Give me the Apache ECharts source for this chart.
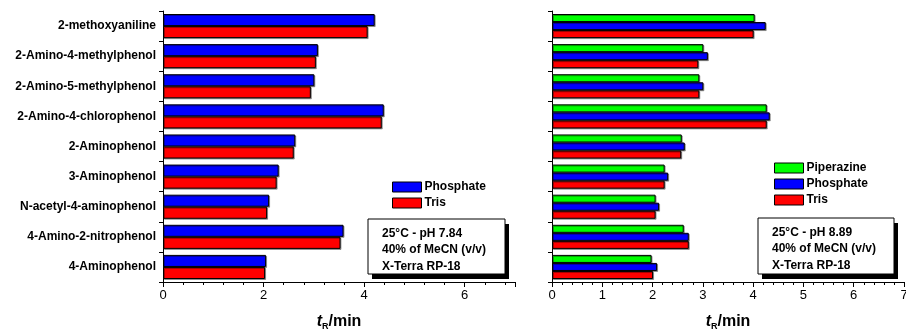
<!DOCTYPE html>
<html>
<head>
<meta charset="utf-8">
<script src="https://cdn.jsdelivr.net/npm/echarts@6/dist/echarts.min.js"></script>
<style>html,body{margin:0;padding:0;background:#fff;}#c{width:906px;height:331px;}</style>
</head>
<body>
<div id="c"></div>
<script>
const categories = ['2-methoxyaniline', '2-Amino-4-methylphenol', '2-Amino-5-methylphenol', '2-Amino-4-chlorophenol', '2-Aminophenol', '3-Aminophenol', 'N-acetyl-4-aminophenol', '4-Amino-2-nitrophenol', '4-Aminophenol'];
const leftPhosphate = [4.21, 3.08, 3.01, 4.39, 2.63, 2.30, 2.11, 3.59, 2.05];
const leftTris = [4.07, 3.04, 2.94, 4.35, 2.60, 2.26, 2.07, 3.53, 2.03];
const rightPiperazine = [4.03, 3.01, 2.93, 4.27, 2.58, 2.24, 2.06, 2.62, 1.98];
const rightPhosphate = [4.25, 3.10, 3.01, 4.33, 2.64, 2.31, 2.13, 2.72, 2.09];
const rightTris = [4.01, 2.91, 2.93, 4.27, 2.57, 2.24, 2.06, 2.72, 2.01];
const leftConditions = ['25°C - pH 7.84', '40% of MeCN (v/v)', 'X-Terra RP-18'];
const rightConditions = ['25°C - pH 8.89', '40% of MeCN (v/v)', 'X-Terra RP-18'];

const FONT = '"Liberation Sans", Arial, Helvetica, sans-serif';
const colors = {Piperazine: '#00ff00', Phosphate: '#0000ff', Tris: '#ff0000'};

function bar(name, data, idx) {
  return {
    type: 'bar', name: name, data: data, xAxisIndex: idx, yAxisIndex: idx,
    barCategoryGap: '20%', barGap: '0%',
    itemStyle: {color: colors[name], borderColor: '#000', borderWidth: 1,
      shadowColor: 'rgba(0,0,0,0.35)', shadowOffsetX: 1, shadowOffsetY: 1, shadowBlur: 0},
    emphasis: {disabled: true}, animation: false
  };
}
function xAx(idx, interval) {
  return {
    type: 'value', gridIndex: idx, min: 0, max: 7, interval: interval,
    axisLine: {show: true, lineStyle: {color: '#000', width: 1}},
    axisTick: {show: true, length: 5, lineStyle: {color: '#000'}},
    minorTick: {show: true, splitNumber: 5, length: 3, lineStyle: {color: '#000'}},
    splitLine: {show: false},
    axisLabel: {color: '#000', fontSize: 13, fontFamily: FONT, margin: 7, showMaxLabel: interval === 1},
    name: '{t|t}{r|R}{m|/min}', nameLocation: 'middle', nameGap: 30,
    nameTextStyle: {rich: {
      t: {fontSize: 16, fontWeight: 'bold', fontStyle: 'italic', fontFamily: FONT, color: '#000'},
      r: {fontSize: 9, fontWeight: 'bold', fontFamily: FONT, color: '#000', padding: [10, 0, 0, 0]},
      m: {fontSize: 16, fontWeight: 'bold', fontFamily: FONT, color: '#000'}
    }}
  };
}
function yAx(idx, showLabels) {
  return {
    type: 'category', gridIndex: idx, data: categories, inverse: true,
    axisLine: {show: true, lineStyle: {color: '#000', width: 1}},
    axisTick: {show: true, length: 4, lineStyle: {color: '#000'}},
    axisLabel: {show: showLabels, color: '#000', fontSize: 12, fontWeight: 'bold', fontFamily: FONT, margin: 7},
    splitLine: {show: false}
  };
}
function condBox(x, y, w, h, lines) {
  return {
    type: 'group', children: [
      {type: 'rect', shape: {x: x + 4, y: y + 5, width: w, height: h}, style: {fill: '#000'}},
      {type: 'rect', shape: {x: x, y: y, width: w, height: h}, style: {fill: '#fff', stroke: '#000', lineWidth: 1}},
      {type: 'text', x: x + 14, y: y + 6, style: {text: lines.join('\n'), font: 'bold 12px ' + FONT, fill: '#000', lineHeight: 16.5}}
    ]
  };
}
function legendAt(names, left, top) {
  return {data: names, orient: 'vertical', left: left, top: top, padding: 0, icon: 'rect',
    itemWidth: 29, itemHeight: 10, itemGap: 4,
    itemStyle: {borderColor: '#000', borderWidth: 1},
    textStyle: {fontSize: 12, fontWeight: 'bold', fontFamily: FONT, color: '#000', padding: [0, 0, 0, -2]},
    selectedMode: false};
}

const chart = echarts.init(document.getElementById('c'), null, {renderer: 'canvas'});
chart.setOption({
  backgroundColor: '#fff',
  animation: false,
  grid: [
    {left: 163, top: 11, width: 352, height: 271, outerBoundsMode: 'none', containLabel: false},
    {left: 552, top: 11, width: 352, height: 271, outerBoundsMode: 'none', containLabel: false}
  ],
  xAxis: [xAx(0, 2), xAx(1, 1)],
  yAxis: [yAx(0, true), yAx(1, false)],
  legend: [
    legendAt(['Phosphate', 'Tris'], 392, 181),
    legendAt(['Piperazine', 'Phosphate', 'Tris'], 774, 162)
  ],
  series: [
    bar('Phosphate', leftPhosphate, 0),
    bar('Tris', leftTris, 0),
    bar('Piperazine', rightPiperazine, 1),
    bar('Phosphate', rightPhosphate, 1),
    bar('Tris', rightTris, 1)
  ],
  graphic: [
    condBox(368, 219, 137, 55, leftConditions),
    condBox(758, 218, 136, 56, rightConditions)
  ]
});
</script>
</body>
</html>
